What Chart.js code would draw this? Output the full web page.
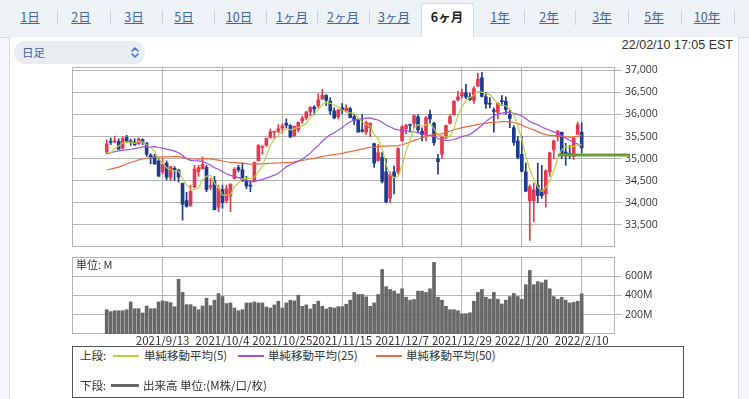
<!DOCTYPE html>
<html><head><meta charset="utf-8">
<script src="https://cdn.jsdelivr.net/npm/chart.js@4.4.1/dist/chart.umd.min.js"></script>
<style>
html,body{margin:0;padding:0}
body{width:749px;height:399px;overflow:hidden;background:#f4f6f9;position:relative;font-family:"Noto Sans CJK JP","Noto Sans",sans-serif}
.tabbar{position:absolute;left:0;top:0;width:749px;height:37px;background:#eef1f6;border-bottom:1px solid #d4d9e1}
.tab{position:absolute;top:8px;font-size:12.5px;line-height:17px;color:#3f66a3;text-decoration:underline;transform:translateX(-50%);white-space:nowrap}
.tab.on{color:#222;font-weight:bold;text-decoration:none}
.sep{position:absolute;top:10px;width:1px;height:15px;background:#cdd3dc}
.activebg{position:absolute;left:421px;top:3px;width:51px;height:35px;background:#fff;border:1px solid #d4d9e1;border-bottom:none;border-radius:3px 3px 0 0}
.panel{position:absolute;left:9px;top:37px;width:728px;height:380px;background:#fff;border:1px solid #d9dde4;border-top:none}
.sel{position:absolute;left:14px;top:41px;width:131px;height:23px;border-radius:12px;background:#e9edf2}
.sel span{position:absolute;left:8px;top:3px;font-size:11.5px;line-height:17px;color:#3f66a3}
.sel svg{position:absolute;left:115px;top:5px}
.stamp{position:absolute;right:16px;top:37px;font-family:"Liberation Sans",sans-serif;font-size:12.5px;line-height:16px;color:#333}
canvas{position:absolute}
.unit{position:absolute;left:76px;top:258px;font-size:11px;line-height:13px;color:#333}
.legend{position:absolute;left:72px;top:346px;width:610px;height:50px;border:1px solid #555;background:#fff;font-size:11.5px;color:#333}
.legend .t{position:absolute;line-height:14px;white-space:nowrap}
.legend .ln{position:absolute}
</style></head>
<body>
<div class="tabbar"></div>
<div class="activebg"></div>
<div id="tabs"></div>
<div class="panel"></div>
<div class="sel"><span>日足</span>
<svg width="12" height="13" viewBox="0 0 12 13"><path d="M3 5 L6 2 L9 5 M3 8 L6 11 L9 8" fill="none" stroke="#3c78c8" stroke-width="1.6" stroke-linecap="round" stroke-linejoin="round"/></svg></div>
<div class="stamp">22/02/10 17:05 EST</div>
<canvas id="price" width="638" height="200" style="left:62px;top:57px"></canvas>
<canvas id="vol" width="638" height="99" style="left:62px;top:247px"></canvas>
<div class="unit">単位: M</div>
<div class="legend">
  <div class="t" style="left:7px;top:1px">上段:</div>
  <div class="ln" style="left:40px;top:8px;width:26px;height:1.5px;background:#b7d33b"></div>
  <div class="t" style="left:71px;top:1px">単純移動平均(5)</div>
  <div class="ln" style="left:165px;top:8px;width:26px;height:1.5px;background:#a24fe3"></div>
  <div class="t" style="left:195px;top:1px">単純移動平均(25)</div>
  <div class="ln" style="left:303px;top:8px;width:26px;height:1.5px;background:#ea6a3c"></div>
  <div class="t" style="left:333px;top:1px">単純移動平均(50)</div>
  <div class="t" style="left:7px;top:31px">下段:</div>
  <div class="ln" style="left:38px;top:37px;width:28px;height:3px;background:#666"></div>
  <div class="t" style="left:70px;top:31px">出来高 単位:(M株/口/枚)</div>
</div>
<script>
// ---- tabs ----
const tabNames = ['1日','2日','3日','5日','10日','1ヶ月','2ヶ月','3ヶ月','6ヶ月','1年','2年','3年','5年','10年'];
const tabCenters = [30,81,134,184,239,292,343,394,447,500,549,602,654,707];
const sepX = [57,110,162,214,266,317,369,524,575,628,681,734];
const activeTab = '6ヶ月';

// ---- price data (DJIA daily, 2021/8/23 - 2022/2/10) ----
const tickIdx = [14,29,44,59,74,89,104,119];
const tickLabels = ['2021/9/13','2021/10/4','2021/10/25','2021/11/15','2021/12/7','2021/12/29','2022/1/20','2022/2/10'];

const open = [35147,35380,35380,35390,35240,35480,35400,35380,35340,35430,
35350,35080,35050,34950,34700,34900,34580,34780,34740,34440,
34050,33940,34350,34700,34770,34800,34350,34500,33900,34300,
34050,34150,34550,34800,34750,34500,34400,34500,34950,35250,
35300,35480,35600,35620,35690,35800,35750,35520,35650,35850,
35920,36060,36170,36200,36350,36430,36300,36080,35950,36150,
36080,36130,35950,35870,35650,35600,35700,35340,34950,35030,
34700,34100,34700,34700,35400,35680,35770,35800,35950,35620,
35550,36000,35800,35000,35100,35470,35800,35990,36330,36420,
36490,36400,36320,36640,36830,36400,36250,36100,36050,36300,
36300,36000,35700,35400,35100,34700,34050,34050,34400,34300,
34200,34700,35200,35500,35600,35150,35100,35050,35550,35600];
const high = [35420,35467,35510,35450,35500,35530,35440,35450,35470,35450,
35370,35110,35100,35020,35000,34950,34830,34820,34760,34450,
34240,34400,34850,34850,35040,34850,34550,34600,34400,34400,
34400,34440,34800,34850,34900,34600,34500,34930,35320,35300,
35470,35670,35620,35770,35790,35900,35770,35740,35830,35960,
36070,36180,36200,36470,36570,36450,36380,36150,36120,36250,
36220,36160,36000,35900,36000,35850,35810,35350,35320,35150,
35000,34700,34830,35250,35750,35780,35780,35990,35990,35700,
35960,36100,35820,35100,35500,35760,36000,36310,36530,36570,
36680,36480,36630,36935,36953,36500,36380,36150,36270,36430,
36400,36100,35750,35500,35500,34900,34400,34450,34900,34850,
34750,35150,35420,35630,35600,35350,35300,35500,35830,35810];
const low = [35115,35318,35360,35210,35210,35370,35300,35300,35320,35320,
35050,34880,34870,34590,34650,34520,34500,34500,34470,33610,
33900,33920,34350,34600,34760,34250,34300,33840,33800,33880,
34000,33800,34540,34700,34490,34320,34250,34500,34950,35100,
35280,35460,35450,35580,35590,35700,35480,35500,35600,35800,
35880,35970,35990,36150,36340,36200,36000,35900,35900,36020,
36050,35920,35770,35600,35600,35550,35500,34800,34950,34450,
34000,34000,34200,34650,35400,35560,35600,35700,35600,35400,
35400,35800,35300,34650,35000,35450,35780,35990,36300,36370,
36360,36320,36250,36640,36400,36140,36150,35600,35900,36200,
36000,35700,35300,35000,34700,34250,33150,33570,34000,34100,
33900,34600,35000,35400,35000,34850,35000,34980,35550,35130];
const close = [35336,35366,35406,35213,35456,35400,35361,35313,35444,35369,
35100,35031,34879,34608,34870,34578,34814,34751,34585,33970,
33920,34258,34765,34798,34869,34300,34391,33844,34326,34003,
34315,34417,34755,34746,34496,34378,34378,34913,35295,35259,
35457,35609,35603,35677,35741,35757,35491,35730,35820,35914,
36053,36158,36124,36328,36432,36320,36080,35921,36100,36087,
36142,35931,35871,35602,35619,35814,35804,34899,35136,34484,
34022,34640,34580,35227,35719,35754,35755,35971,35651,35544,
35927,35898,35365,34932,35493,35754,35951,36302,36398,36489,
36398,36338,36585,36800,36407,36236,36232,36069,36252,36290,
36114,35912,35368,35029,34715,34265,34365,34298,34168,34161,
34725,35132,35405,35629,35111,35090,35091,35463,35768,35242];
// closes of the 49 sessions before the first candle (needed for the moving averages)
const priorCloses = [34394,34300,34033,33823,33290,33877,33946,33874,34196,34434,34283,34292,34503,
34634,34786,34577,34681,34422,34870,34997,34889,34934,34988,34688,33962,34512,34798,34824,35062,35144,35059,34931,35085,34935,
34838,35117,34793,35064,35209,35101,35265,35485,35500,35516,35625,35343,34961,34894,35120];
// volume, millions
const volume = [253,232,242,242,242,253,333,263,263,218,
291,263,263,333,344,337,326,284,568,432,
305,305,284,253,291,372,295,351,421,389,
316,323,270,242,253,323,323,333,323,323,
281,270,302,340,270,323,351,344,403,288,
302,260,309,340,288,260,277,270,284,284,
309,351,432,410,410,386,288,323,410,670,
491,463,446,418,470,382,351,358,446,446,
432,470,744,382,351,288,253,253,242,211,
211,221,340,432,463,382,361,432,361,312,
351,389,421,389,361,512,660,512,544,533,
561,470,389,361,382,351,323,330,340,418];
const priceTicks = [33500,34000,34500,35000,35500,36000,36500,37000];
const volTicks = [200,400,600];
// green reference level drawn on the right
const refLevel = 35080, refFrom = 113, refTo = 131;

// ---- tabs DOM ----
const tabsEl = document.getElementById('tabs');
tabNames.forEach((n,i)=>{const d=document.createElement('div');d.className='tab'+(n===activeTab?' on':'');d.style.left=tabCenters[i]+'px';d.textContent=n;tabsEl.appendChild(d);});
sepX.forEach(x=>{const d=document.createElement('div');d.className='sep';d.style.left=x+'px';tabsEl.appendChild(d);});

// ---- charts ----
const RED='#e8374e', BLUE='#1d3b95', GRID='#b4b4b4';
const idx = close.map((_,i)=>i);
const candleColor = idx.map(i=> close[i]>=open[i] ? RED : BLUE);
function movingAverage(n){
  const all = priorCloses.concat(close), off = priorCloses.length;
  return idx.map(i=>{let s=0;for(let k=0;k<n;k++) s+=all[off+i-k];return {x:i,y:s/n};});
}
const frame = {id:'frame',beforeDatasetsDraw(c){const a=c.chartArea,x=c.ctx;x.save();x.strokeStyle=GRID;x.lineWidth=1;
  x.strokeRect(Math.round(a.left)+0.5,Math.round(a.top)+0.5,Math.round(a.width)-1,Math.round(a.height)-1);x.restore();}};
const XMIN=-8.7, XMAX=127.35;
const xGridScale = (showLabels)=>({type:'linear',min:XMIN,max:XMAX,offset:false,
  afterBuildTicks:s=>{s.ticks=tickIdx.map(v=>({value:v}));},
  afterFit:s=>{s.height= showLabels?12:0;},
  grid:{color:GRID,offset:false,drawTicks:false,lineWidth:1},border:{display:false},
  ticks:{display:showLabels,autoSkip:false,maxRotation:0,minRotation:0,padding:0,color:'#333',
    font:{family:"'Noto Sans CJK JP'",size:11.5},callback:v=>{const k=tickIdx.indexOf(v);return k<0?'':tickLabels[k];}}});
Chart.defaults.animation=false;
Chart.defaults.devicePixelRatio=1;

new Chart(document.getElementById('price'),{
  type:'bar',
  data:{datasets:[
    {type:'line',label:'基準',data:[{x:refFrom,y:refLevel},{x:refTo,y:refLevel}],borderColor:'#6b9c3a',borderWidth:3,pointRadius:0,clip:false,order:0},
    {type:'line',label:'単純移動平均(5)',data:movingAverage(5),borderColor:'#b7d33b',borderWidth:1.2,pointRadius:0,order:1},
    {type:'line',label:'単純移動平均(25)',data:movingAverage(25),borderColor:'#a24fe3',borderWidth:1.2,pointRadius:0,order:2},
    {type:'line',label:'単純移動平均(50)',data:movingAverage(50),borderColor:'#ea6a3c',borderWidth:1.2,pointRadius:0,order:3},
    {label:'body',data:idx.map(i=>({x:i,y:[open[i],close[i]]})),backgroundColor:candleColor,barThickness:3,grouped:false,minBarLength:1,order:4},
    {label:'wick',data:idx.map(i=>({x:i,y:[low[i],high[i]]})),backgroundColor:candleColor,barThickness:1,grouped:false,order:5}
  ]},
  options:{responsive:false,events:[],layout:{padding:{left:10,top:10,right:0,bottom:10}},
    plugins:{legend:{display:false},tooltip:{enabled:false}},
    scales:{
      x:xGridScale(false),
      y:{position:'right',min:33000,max:37075,
        afterBuildTicks:s=>{s.ticks=priceTicks.map(v=>({value:v}));},
        afterFit:s=>{s.width=85;},
        grid:{color:GRID,tickLength:7,lineWidth:1},border:{display:false},
        ticks:{padding:3,color:'#333',font:{family:"'Open Sans'",size:10.5},callback:v=>v.toLocaleString('en-US')}}
    }},
  plugins:[frame]
});

new Chart(document.getElementById('vol'),{
  type:'bar',
  data:{datasets:[{label:'出来高',data:idx.map(i=>({x:i,y:volume[i]})),backgroundColor:'#676767',barThickness:3,grouped:false}]},
  options:{responsive:false,events:[],layout:{padding:{left:10,top:10,right:0,bottom:0}},
    plugins:{legend:{display:false},tooltip:{enabled:false}},
    scales:{
      x:xGridScale(true),
      y:{position:'right',min:0,max:800,
        afterBuildTicks:s=>{s.ticks=volTicks.map(v=>({value:v}));},
        afterFit:s=>{s.width=85;},
        grid:{color:GRID,tickLength:7,lineWidth:1},border:{display:false},
        ticks:{padding:3,color:'#333',font:{family:"'Open Sans'",size:10.5},callback:v=>v+'M'}}
    }},
  plugins:[frame]
});
</script>
</body></html>
